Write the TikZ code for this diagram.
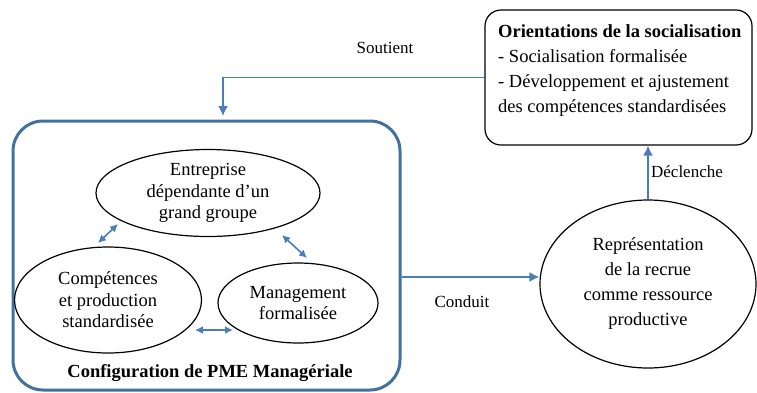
\documentclass[tikz,border=0pt]{standalone}
\usepackage{fontspec}
\setmainfont{Liberation Serif}
\usetikzlibrary{shapes.geometric,arrows.meta}
\definecolor{arrblue}{HTML}{4A7EBB}
\definecolor{cfgblue}{HTML}{41719C}
\begin{document}
\begin{tikzpicture}[x=1pt,y=-1pt,
  txt/.style={font=\fontsize{18.5}{21.5}\selectfont, align=center},
  ell/.style={ellipse, draw=black, line width=1.2pt, inner sep=0pt, txt},
  arr/.style={draw=arrblue, line width=1.6pt, -{Latex[length=10pt,width=10pt]}},
  dbl/.style={draw=arrblue, line width=1.6pt, {Latex[length=8pt,width=8pt]}-{Latex[length=8pt,width=8pt]}},
  lbl/.style={font=\fontsize{17}{20}\selectfont}
]
\useasboundingbox (0,0) rectangle (757,392);

% big configuration box
\node[draw=cfgblue, line width=3pt, rounded corners=30pt, minimum width=387pt, minimum height=269pt, inner sep=0pt] (cfg) at (206.5,255.5) {};
\node[font=\fontsize{18.5}{21.5}\selectfont\bfseries] (cfglbl) at (210,373) {Configuration de PME Managériale};

% ellipses inside
\node[ell, minimum width=224pt, minimum height=87pt] (e1) at (208,193) {Entreprise\\dépendante d’un\\grand groupe};
\node[ell, minimum width=187pt, minimum height=106pt] (e2) at (108,300) {Compétences\\et production\\standardisée};
\node[ell, minimum width=160pt, minimum height=80pt] (e3) at (298,303) {Management\\formalisée};

\draw[dbl] ([shift={(-10,-57)}]e2.center) -- ([shift={(-90,31)}]e1.center);
\draw[dbl] ([shift={(74,42)}]e1.center) -- ([shift={(9,-45)}]e3.center);
\draw[dbl] ([shift={(87,30)}]e2.center) -- ([shift={(-65,27)}]e3.center);

% orientations box
\node[draw=black, line width=1.2pt, rounded corners=16pt, minimum width=267pt, minimum height=135pt, inner sep=0pt] (orient) at (618.5,77.5) {};
\node[anchor=west, align=left, inner sep=0pt, font=\fontsize{18.5}{25}\selectfont] (orienttxt) at (498,71)
  {\textbf{Orientations de la socialisation}\\- Socialisation formalisée\\- Développement et ajustement\\des compétences standardisées};

% representation ellipse
\node[ell, font=\fontsize{18.5}{25}\selectfont, minimum width=216pt, minimum height=168pt] (rep) at (648,284) {Représentation\\de la recrue\\comme ressource\\productive};

% connectors
\coordinate (sb) at (223,116);
\draw[arr] (orient.west) -| (sb);
\node[lbl] (soutient) at (385,48) {Soutient};

\draw[arr] (cfg.east |- 0,277) -- (rep.west |- 0,277);
\node[lbl] (conduit) at (462,302) {Conduit};

\draw[arr] (rep.north) -- (rep.north |- orient.south);
\node[lbl] (declenche) at (687,172) {Déclenche};
\end{tikzpicture}
\end{document}
